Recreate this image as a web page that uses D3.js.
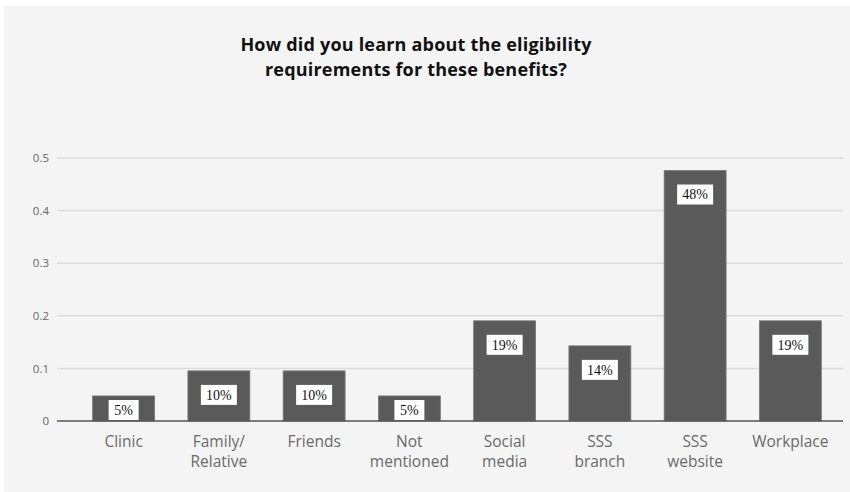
<!DOCTYPE html>
<html>
<head>
<meta charset="utf-8">
<script src="https://cdn.jsdelivr.net/npm/d3@7"></script>
<style>
  body { margin: 0; background: #fff; }
  svg { display: block; }
</style>
</head>
<body>
<svg width="850" height="492"></svg>
<script>
// survey answers, share of 21 respondents
const categories = ['Clinic', 'Family/\nRelative', 'Friends', 'Not\nmentioned', 'Social\nmedia', 'SSS\nbranch', 'SSS\nwebsite', 'Workplace'];
const values = [1 / 21, 2 / 21, 2 / 21, 1 / 21, 4 / 21, 3 / 21, 10 / 21, 4 / 21];
const valueLabels = ['5%', '10%', '10%', '5%', '19%', '14%', '48%', '19%'];
const yTicks = [0, 0.1, 0.2, 0.3, 0.4, 0.5];
const titleLines = ['How did you learn about the eligibility', 'requirements for these benefits?'];

const svg = d3.select('svg');

svg.append('rect')
  .attr('x', 4).attr('y', 6)
  .attr('width', 846).attr('height', 486)
  .attr('fill', '#f4f4f4');

const title = svg.append('text')
  .attr('x', 416)
  .attr('y', 51)
  .attr('text-anchor', 'middle')
  .attr('font-family', '"Open Sans", sans-serif')
  .attr('font-weight', 'bold')
  .attr('font-size', 18)
  .attr('letter-spacing', 0.2)
  .attr('fill', '#111');
title.selectAll('tspan')
  .data(titleLines)
  .join('tspan')
  .attr('x', 416)
  .attr('dy', (d, i) => (i ? 25 : 0))
  .text(d => d);

const gridLeft = 57;
const gridRight = 843;

const x = d3.scaleBand().domain(categories).range([76, 838]).paddingInner(0.35).paddingOuter(0.175);
const y = d3.scaleLinear().domain([0, 0.5]).range([421, 158]);

// gridlines
svg.append('g')
  .selectAll('line')
  .data(yTicks.filter(d => d > 0))
  .join('line')
  .attr('x1', gridLeft).attr('x2', gridRight)
  .attr('y1', d => y(d)).attr('y2', d => y(d))
  .attr('stroke', '#dcdcdc')
  .attr('stroke-width', 1.5);

// y axis labels
const yAxis = svg.append('g')
  .attr('transform', 'translate(49,0)')
  .call(d3.axisLeft(y).tickValues(yTicks).tickSize(0).tickPadding(0).tickFormat(d => (d === 0 ? '0' : d3.format('.1f')(d))));
yAxis.select('.domain').remove();
yAxis.selectAll('text')
  .attr('font-family', '"Open Sans", sans-serif')
  .attr('font-size', 11.5)
  .attr('fill', '#666');

// bars
svg.append('g')
  .selectAll('rect')
  .data(values)
  .join('rect')
  .attr('x', (d, i) => x(categories[i]))
  .attr('y', d => y(d))
  .attr('width', x.bandwidth())
  .attr('height', d => y(0) - y(d))
  .attr('fill', '#595a59')
  .attr('stroke', '#777')
  .attr('stroke-width', 0.8);

// baseline
svg.append('line')
  .attr('x1', gridLeft).attr('x2', gridRight)
  .attr('y1', y(0)).attr('y2', y(0))
  .attr('stroke', '#555')
  .attr('stroke-width', 1.5);

// value labels in white boxes
const labelY = d => Math.min(y(d) + 24, y(0) - 11);
const lab = svg.append('g')
  .selectAll('g')
  .data(values)
  .join('g')
  .attr('transform', (d, i) => `translate(${x(categories[i]) + x.bandwidth() / 2},${labelY(d)})`);
lab.append('rect')
  .attr('x', (d, i) => (valueLabels[i].length > 2 ? -18 : -15))
  .attr('y', -10)
  .attr('width', (d, i) => (valueLabels[i].length > 2 ? 36 : 30))
  .attr('height', 20)
  .attr('fill', '#fff');
lab.append('text')
  .attr('text-anchor', 'middle')
  .attr('dy', '0.35em')
  .attr('font-family', '"Liberation Serif", serif')
  .attr('font-size', 14)
  .attr('fill', '#111')
  .text((d, i) => valueLabels[i]);

// category labels
const xLab = svg.append('g')
  .selectAll('text')
  .data(categories)
  .join('text')
  .attr('text-anchor', 'middle')
  .attr('font-family', '"Open Sans", sans-serif')
  .attr('font-size', 15.5)
  .attr('fill', '#6a6a6a')
  .attr('y', 447);
xLab.selectAll('tspan')
  .data(d => d.split('\n').map(t => ({ t, c: d })))
  .join('tspan')
  .attr('x', d => x(d.c) + x.bandwidth() / 2)
  .attr('dy', (d, i) => (i ? 20 : 0))
  .text(d => d.t);
</script>
</body>
</html>
